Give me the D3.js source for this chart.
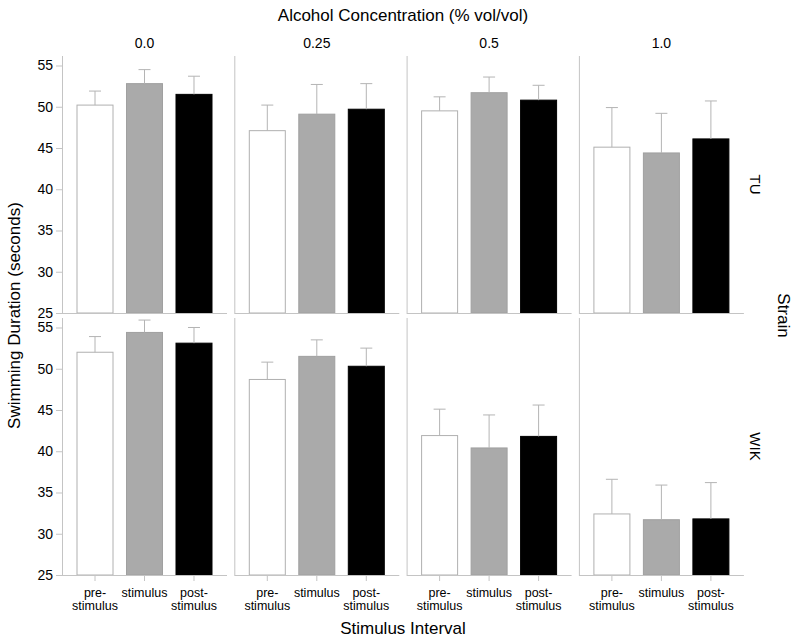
<!DOCTYPE html>
<html>
<head>
<meta charset="utf-8">
<script src="https://cdn.jsdelivr.net/npm/d3@7"></script>
<style>
  html, body { margin: 0; padding: 0; background: #fff; }
  svg { display: block; }
  text { font-family: "Liberation Sans", Arial, Helvetica, sans-serif; fill: #000; }
</style>
</head>
<body>
<svg id="chart" width="800" height="642"></svg>
<script>
// ---- data ----
const concentrations = ["0.0", "0.25", "0.5", "1.0"];
const strains = ["TU", "WIK"];
const intervals = ["pre-stimulus", "stimulus", "post-stimulus"];
const intervalLabelLines = [["pre-", "stimulus"], ["stimulus"], ["post-", "stimulus"]];
const yTicks = [25, 30, 35, 40, 45, 50, 55];

// means per concentration (rows) per interval (cols)
const tuMeans  = [[50.2, 52.8, 51.5], [47.1, 49.1, 49.7], [49.5, 51.7, 50.8], [45.1, 44.4, 46.1]];
const tuUpper  = [[51.9, 54.5, 53.7], [50.2, 52.7, 52.8], [51.2, 53.6, 52.6], [49.9, 49.2, 50.7]];
const wikMeans = [[52.0, 54.4, 53.1], [48.7, 51.5, 50.3], [41.9, 40.4, 41.8], [32.4, 31.7, 31.8]];
const wikUpper = [[53.9, 55.9, 55.0], [50.8, 53.5, 52.5], [45.1, 44.4, 45.6], [36.6, 35.9, 36.2]];

const strainMeans = [tuMeans, wikMeans];
const strainUpper = [tuUpper, wikUpper];

// ---- layout ----
const svg = d3.select("#chart");
const panelLeft = 62, panelStep = 172.3, panelW = 165;
const rowTops = [56, 318], panelH = 257;
const axisColor = "#c4c4c4";
const errColor = "#b4b4b4";
const fills = ["#ffffff", "#aaaaaa", "#000000"];
const strokes = ["#b0b0b0", "#a0a0a0", "#000000"];

const xBand = d3.scaleBand().domain(intervals).range([0, panelW])
  .paddingInner(0.2525).paddingOuter(0.293);

strains.forEach((strain, r) => {
  const y = d3.scaleLinear().domain([25, 56.15]).range([rowTops[r] + panelH, rowTops[r]]);
  concentrations.forEach((conc, c) => {
    const g = svg.append("g")
      .attr("transform", `translate(${panelLeft + c * panelStep},0)`);

    // bars
    g.selectAll("rect.bar").data(intervals).enter().append("rect")
      .attr("class", "bar")
      .attr("x", d => xBand(d) + 0.5)
      .attr("width", xBand.bandwidth() - 1)
      .attr("y", (d, i) => y(strainMeans[r][c][i]))
      .attr("height", (d, i) => y(25) - y(strainMeans[r][c][i]))
      .attr("fill", (d, i) => fills[i])
      .attr("stroke", (d, i) => strokes[i])
      .attr("stroke-width", 1);

    // error bars
    const eb = g.selectAll("g.err").data(intervals).enter().append("g").attr("class", "err");
    eb.append("line")
      .attr("x1", d => xBand(d) + xBand.bandwidth() / 2)
      .attr("x2", d => xBand(d) + xBand.bandwidth() / 2)
      .attr("y1", (d, i) => y(strainMeans[r][c][i]))
      .attr("y2", (d, i) => y(strainUpper[r][c][i]))
      .attr("stroke", errColor).attr("stroke-width", 1);
    eb.append("line")
      .attr("x1", d => xBand(d) + xBand.bandwidth() / 2 - 6)
      .attr("x2", d => xBand(d) + xBand.bandwidth() / 2 + 6)
      .attr("y1", (d, i) => y(strainUpper[r][c][i]))
      .attr("y2", (d, i) => y(strainUpper[r][c][i]))
      .attr("stroke", errColor).attr("stroke-width", 1);

    // left axis line (all panels), ticks only on first column
    const yAxis = d3.axisLeft(y).tickValues(yTicks).tickSize(c === 0 ? 6 : 0).tickPadding(3)
      .tickFormat(c === 0 ? d3.format("d") : () => "");
    const ya = g.append("g").call(yAxis);
    ya.select(".domain").attr("stroke", axisColor).attr("d", `M0.5,${rowTops[r]}V${rowTops[r] + panelH}`);
    ya.selectAll(".tick line").attr("stroke", axisColor);
    ya.selectAll(".tick text").attr("font-size", 14).attr("font-family", "Liberation Sans, Arial, sans-serif").attr("fill", "#000");

    // bottom axis line
    const xAxis = d3.axisBottom(xBand).tickSize(r === 1 ? 6 : 0).tickFormat(() => "");
    const xa = g.append("g").attr("transform", `translate(0,${rowTops[r] + panelH})`).call(xAxis);
    xa.select(".domain").attr("stroke", axisColor).attr("d", `M0,0.5H${panelW}`);
    xa.selectAll(".tick line").attr("stroke", axisColor);

    if (r === 1) {
      intervals.forEach((iv, i) => {
        const t = g.append("text")
          .attr("x", xBand(iv) + xBand.bandwidth() / 2)
          .attr("y", 597)
          .attr("text-anchor", "middle")
          .attr("font-size", 12.5);
        intervalLabelLines[i].forEach((ln, k) => {
          t.append("tspan").attr("x", xBand(iv) + xBand.bandwidth() / 2)
            .attr("dy", k === 0 ? 0 : 12.5).text(ln);
        });
      });
    }

    if (r === 0) {
      g.append("text").attr("x", panelW / 2).attr("y", 48)
        .attr("text-anchor", "middle").attr("font-size", 14).text(conc);
    }
  });

  // strip label on right
  svg.append("text")
    .attr("transform", `translate(750,${rowTops[r] + panelH / 2}) rotate(90)`)
    .attr("text-anchor", "middle").attr("font-size", 15).text(strain);
});

// titles
svg.append("text").attr("x", 403).attr("y", 21).attr("text-anchor", "middle")
  .attr("font-size", 17).text("Alcohol Concentration (% vol/vol)");
svg.append("text").attr("x", 403).attr("y", 634).attr("text-anchor", "middle")
  .attr("font-size", 17).text("Stimulus Interval");
svg.append("text").attr("transform", "translate(19.5,315.5) rotate(-90)")
  .attr("text-anchor", "middle").attr("font-size", 17).text("Swimming Duration (seconds)");
svg.append("text").attr("transform", "translate(778,315.5) rotate(90)")
  .attr("text-anchor", "middle").attr("font-size", 17).text("Strain");
</script>
</body>
</html>
